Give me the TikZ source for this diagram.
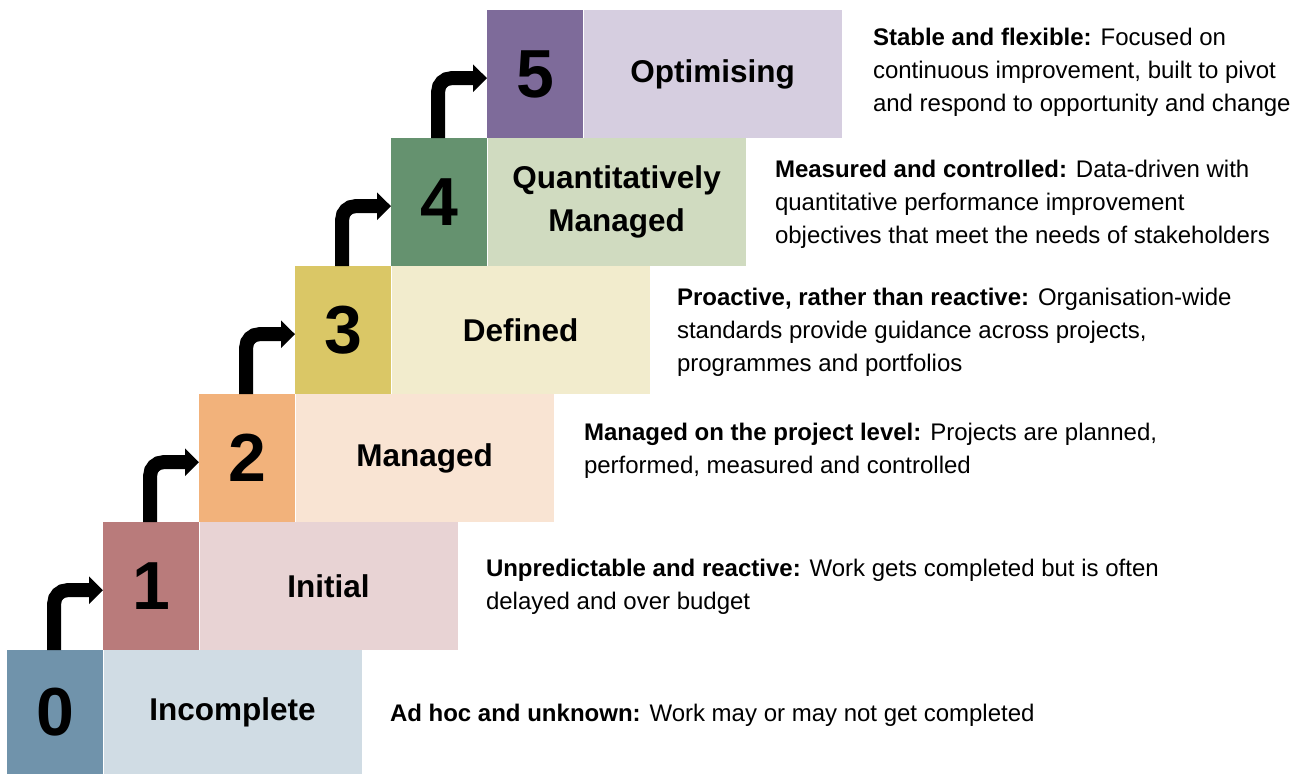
\documentclass[tikz,border=0pt]{standalone}
\usepackage{fontspec}
\setmainfont{Liberation Sans}
\usetikzlibrary{arrows.meta}

\definecolor{dz}{HTML}{7093AB}\definecolor{lz}{HTML}{D0DCE4}
\definecolor{da}{HTML}{B97B7B}\definecolor{la}{HTML}{E8D3D4}
\definecolor{db}{HTML}{F2B27B}\definecolor{lb}{HTML}{F9E4D3}
\definecolor{dc}{HTML}{DAC766}\definecolor{lc}{HTML}{F2ECCD}
\definecolor{dd}{HTML}{65926F}\definecolor{ld}{HTML}{D0DBC0}
\definecolor{de}{HTML}{7E6B9A}\definecolor{le}{HTML}{D6CEE0}

\begin{document}
\begin{tikzpicture}[x=1pt,y=-1pt,
  numbox/.style={fill=#1, draw=none, inner sep=0pt, anchor=north west,
    minimum width=96pt, minimum height=128pt,
    font=\fontsize{68}{80}\selectfont\bfseries},
  namebox/.style={fill=#1, draw=none, inner sep=0pt, anchor=north west,
    minimum width=258pt, minimum height=128pt, align=center,
    font=\fontsize{31.5}{43}\selectfont\bfseries},
  desc/.style={anchor=west, align=left, inner sep=0pt,
    font=\fontsize{24}{33}\selectfont},
  stair/.style={line width=14pt, rounded corners=13pt,
    -{Triangle[length=14pt,width=27pt]}}
]
\useasboundingbox (0,0) rectangle (1303,774);

% the six steps, lowest first
\node[numbox=dz, minimum height=124pt] (d0) at (7,650) {0};
\node[namebox=lz, minimum height=124pt] (l0) at (d0.north east) {Incomplete};
\node[numbox=da] (d1) at (103,522) {1};
\node[namebox=la] (l1) at (d1.north east) {Initial};
\node[numbox=db] (d2) at (199,394) {2};
\node[namebox=lb] (l2) at (d2.north east) {Managed};
\node[numbox=dc] (d3) at (295,266) {3};
\node[namebox=lc] (l3) at (d3.north east) {Defined};
\node[numbox=dd] (d4) at (391,138) {4};
\node[namebox=ld] (l4) at (d4.north east) {Quantitatively\\Managed};
\node[numbox=de] (d5) at (487,10) {5};
\node[namebox=le] (l5) at (d5.north east) {Optimising};

% descriptions beside each step
\node[desc] (t0) at ([xshift=28pt,yshift=-3pt]l0.east)
  {\textbf{Ad hoc and unknown:} Work may or may not get completed};
\node[desc] (t1) at ([xshift=28pt,yshift=-1pt]l1.east)
  {\textbf{Unpredictable and reactive:} Work gets completed but is often\\delayed and over budget};
\node[desc] (t2) at ([xshift=30pt,yshift=7pt]l2.east)
  {\textbf{Managed on the project level:} Projects are planned,\\performed, measured and controlled};
\node[desc] (t3) at ([xshift=27pt,yshift=-2pt]l3.east)
  {\textbf{Proactive, rather than reactive:} Organisation-wide\\standards provide guidance across projects,\\programmes and portfolios};
\node[desc] (t4) at ([xshift=29pt,yshift=-2pt]l4.east)
  {\textbf{Measured and controlled:} Data-driven with\\quantitative performance improvement\\objectives that meet the needs of stakeholders};
\node[desc] (t5) at ([xshift=31pt,yshift=2pt]l5.east)
  {\textbf{Stable and flexible:} Focused on\\continuous improvement, built to pivot\\and respond to opportunity and change};

% bent arrows climbing from step to step
\draw[stair] ([xshift=-1pt]d0.north) |- ([yshift=-4pt]d1.west);
\draw[stair] ([xshift=-1pt]d1.north) |- ([yshift=-4pt]d2.west);
\draw[stair] ([xshift=-1pt]d2.north) |- ([yshift=-4pt]d3.west);
\draw[stair] ([xshift=-1pt]d3.north) |- ([yshift=-4pt]d4.west);
\draw[stair] ([xshift=-1pt]d4.north) |- ([yshift=-4pt]d5.west);
\end{tikzpicture}
\end{document}
